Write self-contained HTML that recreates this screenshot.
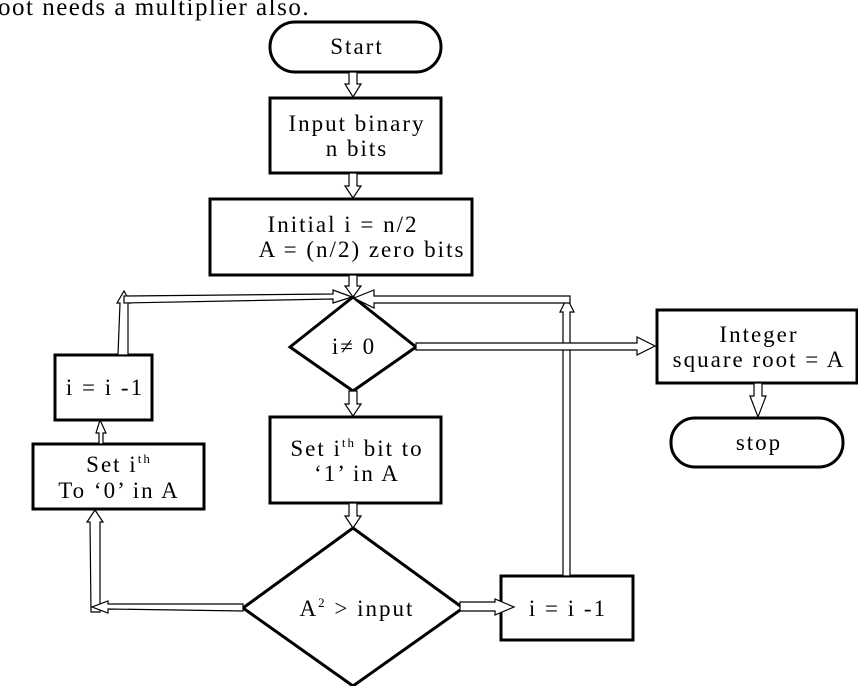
<!DOCTYPE html>
<html><head><style>body{margin:0;background:#fff}svg{display:block}text{font-family:"Liberation Serif",serif;font-size:23px;letter-spacing:2px;fill:#000;text-anchor:middle}</style></head><body>
<svg width="858" height="686" viewBox="0 0 858 686" xmlns="http://www.w3.org/2000/svg">
<text x="-2" y="15" style="text-anchor:start;font-size:25px;letter-spacing:1.5px">oot needs a multiplier  also.</text>
<g fill="none" stroke="#000" stroke-width="3">
<rect x="270" y="22" width="171" height="50" rx="25"/>
<rect x="270" y="98" width="171" height="75"/>
<rect x="210" y="199" width="262" height="76"/>
<polygon points="290,347 353,297 416,347 353,391"/>
<rect x="657" y="310" width="200" height="73"/>
<rect x="671" y="418" width="172" height="49" rx="24"/>
<rect x="270" y="417" width="171" height="86"/>
<polygon points="243,608 353,528 463,608 353,686"/>
<rect x="501" y="576" width="132" height="64"/>
<rect x="55" y="355" width="97" height="65"/>
<rect x="33" y="444" width="171" height="65"/>
</g>
<g fill="#fff" stroke="#000" stroke-width="1.2">
<polygon points="349,72 357,72 357,84 361,84 353,97 345,84 349,84"/>
<polygon points="349,173 357,173 357,186 361,186 353,198 345,186 349,186"/>
<polygon points="349,275 357,275 357,286 361,286 353,297 345,286 349,286"/>
<polygon points="349,391 357,391 357,404 361,404 353,416 345,404 349,404"/>
<polygon points="349,503 357,503 357,516 361,516 353,528 345,516 349,516"/>
<polygon points="754,383 762,383 762,396 766,396 758,417 750,396 754,396"/>
<polygon points="99,444 103,444 103,433 106,433 100,420 96,433 99,433"/>
<polygon points="118,355 128,355 128,303 131,303 124,291 117,303 120,303"/>
<polygon points="124,296 124,303 333,299 333,303 352,297 333,290 333,294"/>
<polygon points="91,612 100,612 100,522 103,522 95,510 87,522 90,522"/>
<polygon points="243,604 243,611 108,609 108,613 92,607 108,601 108,604"/>
<polygon points="563,576 570,576 570,312 574,312 567,298 560,312 563,312"/>
<polygon points="570,296 570,303 374,303 374,308 354,298 374,290 374,296"/>
<polygon points="416,343 416,350 637,350 637,355 655,346 637,337 637,343"/>
<polygon points="460,602 460,611 495,611 495,615 514,607 495,599 495,602"/>
</g>
<text x="357" y="54">Start</text>
<text x="357" y="131">Input binary</text>
<text x="357" y="156">n bits</text>
<text x="343" y="232">Initial i = n/2</text>
<text x="362" y="257">A = (n/2) zero bits</text>
<text x="354" y="354">i≠ 0</text>
<text x="759" y="342">Integer</text>
<text x="759" y="367">square root = A</text>
<text x="759" y="450">stop</text>
<text x="357" y="456">Set i<tspan font-size="13" dy="-9">th</tspan><tspan dy="9"> bit to</tspan></text>
<text x="357" y="481">‘1’ in A</text>
<text x="357" y="616">A<tspan font-size="13" dy="-9">2</tspan><tspan dy="9"> &gt; input</tspan></text>
<text x="568" y="616">i = i -1</text>
<text x="105" y="395">i = i -1</text>
<text x="119" y="472">Set i<tspan font-size="13" dy="-9">th</tspan></text>
<text x="119" y="498">To ‘0’ in A</text>
</svg>
</body></html>
